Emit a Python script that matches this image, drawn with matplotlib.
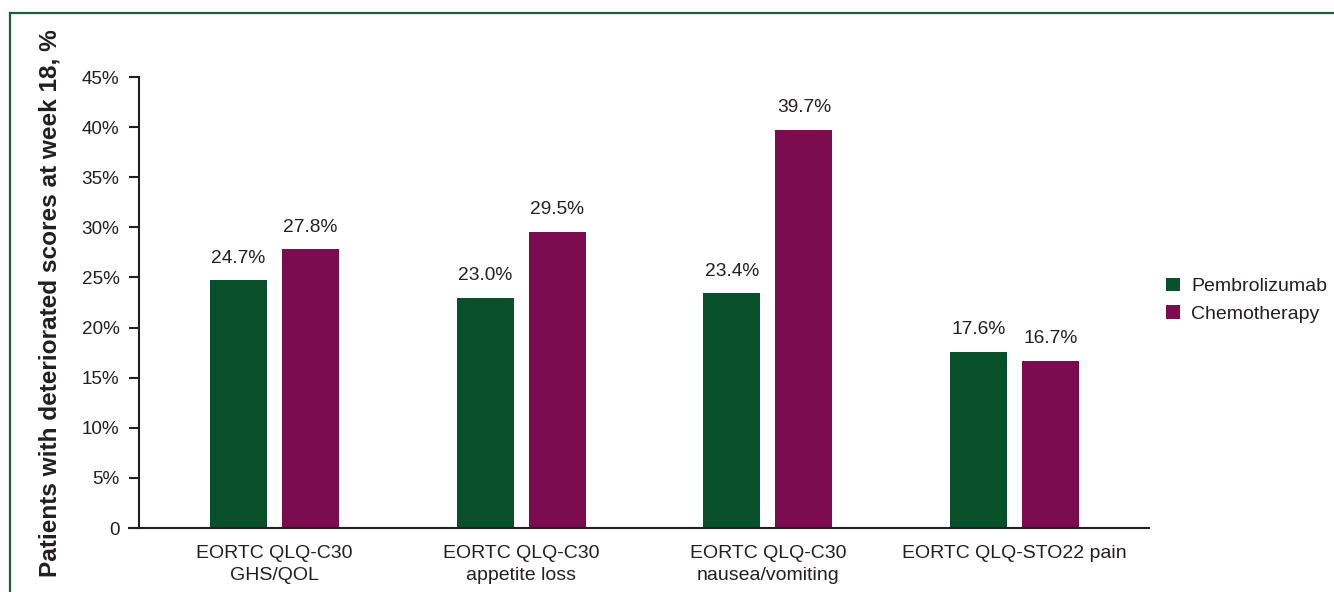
import numpy as np
import matplotlib
matplotlib.use("Agg")
import matplotlib.pyplot as plt
from matplotlib.lines import Line2D

plt.rcParams['font.family'] = ['Liberation Sans', 'DejaVu Sans']

categories = ["EORTC QLQ-C30\nGHS/QOL", "EORTC QLQ-C30\nappetite loss",
              "EORTC QLQ-C30\nnausea/vomiting", "EORTC QLQ-STO22 pain"]
pembrolizumab = [24.7, 23.0, 23.4, 17.6]
chemotherapy = [27.8, 29.5, 39.7, 16.7]
yticks = [0, 5, 10, 15, 20, 25, 30, 35, 40, 45]
ytick_labels = ["0", "5%", "10%", "15%", "20%", "25%", "30%", "35%", "40%", "45%"]

green = "#08502A"
purple = "#7B0C50"
txt = "#231F20"

fig = plt.figure(figsize=(13.34, 5.92), dpi=100)
ax = fig.add_axes([0.1042, 0.1081, 0.7571, 0.7618])

x = np.arange(len(categories))
w = 0.231
off = 0.146
b1 = ax.bar(x - off, pembrolizumab, w, color=green, label="Pembrolizumab")
b2 = ax.bar(x + off, chemotherapy, w, color=purple, label="Chemotherapy")

for bars, vals in ((b1, pembrolizumab), (b2, chemotherapy)):
    for r, v in zip(bars, vals):
        ax.annotate(f"{v:.1f}%", (r.get_x() + r.get_width() / 2, v),
                    xytext=(0, 10), textcoords="offset points",
                    ha="center", va="bottom", fontsize=13.8, color=txt)

ax.set_xlim(-0.549, 3.545)
ax.set_ylim(0, 45)
ax.set_yticks(yticks)
ax.set_yticklabels(ytick_labels)
ax.set_xticks(x)
ax.set_xticklabels(categories, linespacing=1.4)
ax.tick_params(axis='y', length=7, width=1.5, pad=7, labelsize=13.6, colors=txt)
ax.tick_params(axis='x', length=0, pad=12, labelsize=14, colors=txt)
for s in ("top", "right"):
    ax.spines[s].set_visible(False)
for s in ("left", "bottom"):
    ax.spines[s].set_linewidth(1.5)
    ax.spines[s].set_color(txt)
ax.spines["bottom"].set_bounds(-0.549 - 10 / 246.7, 3.545)
ax.spines["bottom"].set_clip_on(False)

fig.text(0.0375, 0.488, "Patients with deteriorated scores at week 18, %",
         rotation=90, ha="center", va="center", fontsize=17.6,
         fontweight="bold", color=txt)

ax.legend(loc="center left", bbox_to_anchor=(0.861, 0.493),
          bbox_transform=fig.transFigure, frameon=False, fontsize=14,
          handlelength=0.7, handleheight=0.7, handletextpad=0.6,
          labelspacing=0.5, labelcolor=txt)

# outer frame lines
frame_c = "#1F5C3A"
fig.add_artist(Line2D([10 / 1334, 1.0], [1 - 13 / 592, 1 - 13 / 592],
                      transform=fig.transFigure, color=frame_c, lw=1.6))
fig.add_artist(Line2D([10 / 1334, 10 / 1334], [0.0, 1 - 13 / 592],
                      transform=fig.transFigure, color=frame_c, lw=1.6))

fig.savefig("out.png", dpi=100)
